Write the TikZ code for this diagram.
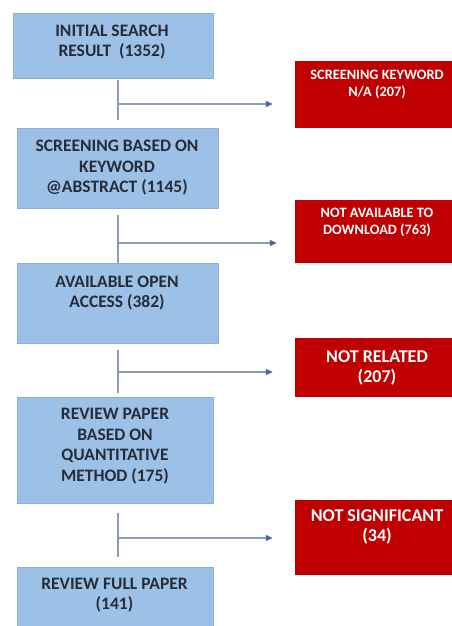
\documentclass[tikz,border=0pt]{standalone}
\usepackage{fontspec}
\setmainfont{Carlito}
\usetikzlibrary{arrows.meta,positioning}

\definecolor{boxblue}{RGB}{157,193,230}
\definecolor{boxedge}{RGB}{140,176,218}
\definecolor{boxred}{RGB}{192,0,0}
\definecolor{linegray}{RGB}{140,155,185}
\definecolor{tipblue}{RGB}{70,105,170}
\definecolor{txtdark}{RGB}{38,44,58}

\begin{document}
\begin{tikzpicture}[x=1pt, y=-1pt,
    bluebox/.style={fill=boxblue, draw=boxedge, line width=0.6pt, inner sep=0pt},
    redbox/.style={fill=boxred, inner sep=0pt, minimum width=164pt},
    bluetxt/.style={font=\bfseries\fontsize{17.5}{20.5}\selectfont, text=txtdark, align=center, inner sep=0pt},
    redtxt/.style={font=\bfseries\fontsize{14.3}{17}\selectfont, text=white, align=center, inner sep=0pt},
    redbig/.style={redtxt, font=\bfseries\fontsize{18}{20}\selectfont},
    link/.style={draw=linegray, line width=1.2pt},
    arr/.style={link, -{Triangle[length=7pt, width=6pt, color=tipblue]}}]
    \useasboundingbox (0,0) rectangle (452,626);

    % main column
    \node[bluebox, minimum width=200pt, minimum height=65pt] (s1) at (113,45.5) {};
    \node[bluetxt] (t1) at (112,42) {INITIAL SEARCH\\RESULT~~(1352)};
    \node[bluebox, minimum width=201pt, minimum height=80pt] (s2) at (117.5,168) {};
    \node[bluetxt] (t2) at (117,168) {SCREENING BASED ON\\KEYWORD\\@ABSTRACT (1145)};
    \node[bluebox, minimum width=201pt, minimum height=80pt] (s3) at (117.5,303) {};
    \node[bluetxt] (t3) at (117,293) {AVAILABLE OPEN\\ACCESS (382)};
    \node[bluebox, minimum width=196pt, minimum height=106pt] (s4) at (115,450) {};
    \node[bluetxt] (t4) at (115,446) {REVIEW PAPER\\BASED ON\\QUANTITATIVE\\METHOD (175)};
    \node[bluebox, minimum width=196pt, minimum height=66pt] (s5) at (115,600) {};
    \node[bluetxt] (t5) at (114.5,595) {REVIEW FULL PAPER\\(141)};

    % excluded records
    \node[redbox, minimum height=67pt] (x1) at (377,94.5) {};
    \node[redtxt] (r1) at (377,84.5) {SCREENING KEYWORD\\N/A (207)};
    \node[redbox, minimum height=63pt] (x2) at (377,231.5) {};
    \node[redtxt] (r2) at (377,222.5) {NOT AVAILABLE TO\\DOWNLOAD (763)};
    \node[redbox, minimum height=59pt] (x3) at (377,367.5) {};
    \node[redbig] (r3) at (377,367.5) {NOT RELATED\\(207)};
    \node[redbox, minimum height=75pt] (x4) at (377,537.5) {};
    \node[redbig] (r4) at (377,527) {NOT SIGNIFICANT\\(34)};

    % connectors
    \coordinate (j1) at (118,104);
    \coordinate (j2) at (118,243);
    \coordinate (j3) at (118,372);
    \coordinate (j4) at (118,538);

    \draw[link, shorten <=2pt, shorten >=8pt] (j1 |- s1.south) -- (j1 |- s2.north);
    \draw[link, shorten <=7pt] (j2 |- s2.south) -- (j2 |- s3.north);
    \draw[link, shorten <=7pt, shorten >=4pt] (j3 |- s3.south) -- (j3 |- s4.north);
    \draw[link, shorten <=10pt, shorten >=10pt] (j4 |- s4.south) -- (j4 |- s5.north);

    \draw[arr, shorten >=22pt] (j1) -- (j1 -| x1.west);
    \draw[arr, shorten >=18pt] (j2) -- (j2 -| x2.west);
    \draw[arr, shorten >=22pt] (j3) -- (j3 -| x3.west);
    \draw[arr, shorten >=22pt] (j4) -- (j4 -| x4.west);
\end{tikzpicture}
\end{document}
